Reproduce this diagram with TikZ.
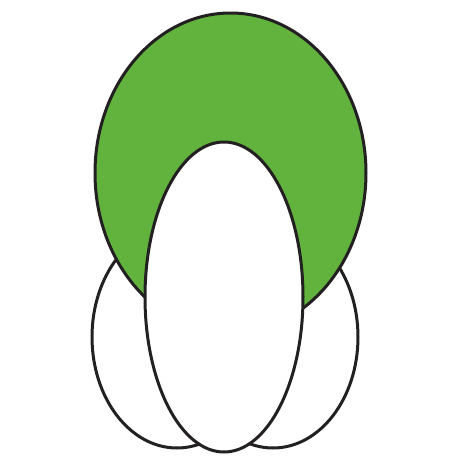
\documentclass[tikz,border=0pt]{standalone}
\usetikzlibrary{calc}
\definecolor{leaf}{RGB}{98,178,62}
\definecolor{ink}{RGB}{35,32,34}
\begin{document}
\begin{tikzpicture}[x=1pt,y=-1pt,
  outline/.style={draw=ink,line width=3pt},
  petal/.style={outline,fill=white}]
\useasboundingbox (0,0) rectangle (459,464);
\fill[white] (0,0) rectangle (459,464);
% side ellipses
\path[petal] (177,337) ellipse [x radius=85,y radius=111];
\path[petal] (273,337) ellipse [x radius=85,y radius=111];
% green ellipse
\path[outline,fill=leaf] (230.5,173) ellipse [x radius=135.5,y radius=160];
% central ellipse
\path[petal] (224,297) ellipse [x radius=79,y radius=155];
\end{tikzpicture}
\end{document}
